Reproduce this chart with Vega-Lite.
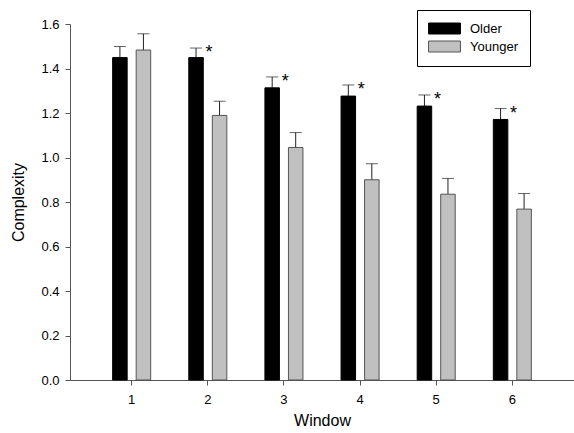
{
  "$schema": "https://vega.github.io/schema/vega-lite/v6.json",
  "autosize": {"type": "none"},
  "padding": {"left": 70, "top": 24, "right": 0, "bottom": 53},
  "width": 504,
  "height": 356,
  "background": "white",
  "config": {
    "font": "Liberation Sans",
    "view": {"stroke": null},
    "axis": {
      "grid": false,
      "domainColor": "#555555",
      "tickColor": "#555555",
      "labelColor": "#000000",
      "titleColor": "#000000",
      "labelFontSize": 13,
      "titleFontSize": 16,
      "titleFontWeight": "normal",
      "tickSize": 5,
      "labelFont": "Liberation Sans",
      "titleFont": "Liberation Sans"
    }
  },
  "data": {
    "values": [
      {"window": 1, "group": "Older", "value": 1.449, "upper": 1.499, "sig": ""},
      {"window": 1, "group": "Younger", "value": 1.483, "upper": 1.556, "sig": ""},
      {"window": 2, "group": "Older", "value": 1.449, "upper": 1.492, "sig": "*"},
      {"window": 2, "group": "Younger", "value": 1.189, "upper": 1.253, "sig": ""},
      {"window": 3, "group": "Older", "value": 1.313, "upper": 1.362, "sig": "*"},
      {"window": 3, "group": "Younger", "value": 1.045, "upper": 1.112, "sig": ""},
      {"window": 4, "group": "Older", "value": 1.276, "upper": 1.326, "sig": "*"},
      {"window": 4, "group": "Younger", "value": 0.9, "upper": 0.972, "sig": ""},
      {"window": 5, "group": "Older", "value": 1.231, "upper": 1.281, "sig": "*"},
      {"window": 5, "group": "Younger", "value": 0.835, "upper": 0.906, "sig": ""},
      {"window": 6, "group": "Older", "value": 1.171, "upper": 1.22, "sig": "*"},
      {"window": 6, "group": "Younger", "value": 0.768, "upper": 0.838, "sig": ""}
    ]
  },
  "encoding": {
    "x": {
      "field": "window",
      "type": "ordinal",
      "scale": {"paddingInner": 0, "paddingOuter": 0.31},
      "axis": {"title": "Window", "labelAngle": 0, "labelPadding": 8, "titlePadding": 6}
    },
    "xOffset": {
      "field": "group",
      "type": "nominal",
      "scale": {"domain": ["Older", "Younger"], "paddingInner": 0.383, "paddingOuter": 0.81}
    }
  },
  "layer": [
    {
      "mark": {"type": "rule", "color": "#222222", "strokeWidth": 1},
      "encoding": {
        "y": {"field": "value", "type": "quantitative"},
        "y2": {"field": "upper"}
      }
    },
    {
      "mark": {"type": "tick", "orient": "horizontal", "color": "#222222", "size": 12, "thickness": 1},
      "encoding": {
        "y": {"field": "upper", "type": "quantitative"}
      }
    },
    {
      "mark": {"type": "bar", "strokeWidth": 1},
      "encoding": {
        "y": {
          "field": "value",
          "type": "quantitative",
          "scale": {"domain": [0, 1.6], "nice": false},
          "axis": {"title": "Complexity", "values": [0, 0.2, 0.4, 0.6, 0.8, 1.0, 1.2, 1.4, 1.6], "format": ".1f", "labelPadding": 6, "titlePadding": 14}
        },
        "fill": {
          "field": "group",
          "type": "nominal",
          "scale": {"domain": ["Older", "Younger"], "range": ["#000000", "#c0c0c0"]},
          "legend": {
            "title": null,
            "orient": "none",
            "legendX": 347,
            "legendY": -14,
            "strokeColor": "#000000",
            "fillColor": "white",
            "padding": 12,
            "symbolType": "M-2.9,-1H2.9V1H-2.9Z",
            "symbolSize": 121,
            "symbolOffset": 9,
            "symbolStrokeColor": "#444444",
            "symbolStrokeWidth": 1,
            "labelFontSize": 13,
            "labelFont": "Liberation Sans",
            "labelColor": "#000000",
            "labelOffset": 19,
            "rowPadding": 3
          }
        },
        "stroke": {
          "field": "group",
          "type": "nominal",
          "scale": {"domain": ["Older", "Younger"], "range": ["#000000", "#555555"]},
          "legend": null
        }
      }
    },
    {
      "transform": [{"filter": "datum.sig == '*'"}],
      "mark": {"type": "text", "fontSize": 18, "dx": 13, "dy": 5, "baseline": "middle", "align": "center", "color": "#000000", "font": "Liberation Sans"},
      "encoding": {
        "y": {"field": "upper", "type": "quantitative"},
        "text": {"field": "sig"}
      }
    }
  ]
}
